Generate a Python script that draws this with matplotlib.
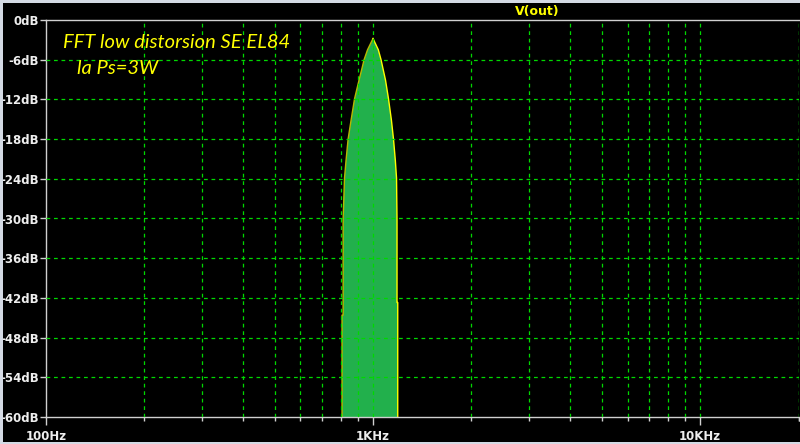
import matplotlib
matplotlib.use("Agg")
import matplotlib.pyplot as plt
from matplotlib.patches import Rectangle
from matplotlib.ticker import FixedLocator, NullFormatter

# spectrum outline (left flank, peak, right flank)
freq_hz = [804, 804, 810, 810, 818, 827, 839, 857, 878, 906, 922, 939, 962, 1000,
           1038, 1058, 1092, 1115, 1138, 1155, 1170, 1180, 1184, 1184, 1190, 1190]
level_db = [-60, -44.6, -44.6, -30.2, -23.9, -21.2, -18.0, -15.1, -11.9, -9.1, -7.6, -6.0, -4.5, -2.8,
            -4.5, -6.0, -9.1, -11.9, -15.1, -18.0, -21.2, -23.9, -30.2, -42.7, -42.7, -60]

y_ticks = [0, -6, -12, -18, -24, -30, -36, -42, -48, -54, -60]
y_labels = [f"{v}dB" for v in y_ticks]
x_major = [100, 1000, 10000]
x_major_labels = ["100Hz", "1KHz", "10KHz"]
x_minor = [m * d for d in (100, 1000, 10000) for m in range(2, 10)] + [20000]

BG = "black"
AXIS = "#d0d0d0"
GRID = "#00d800"
YEL = "#ffff00"
FILL = "#22b04c"

fig = plt.figure(figsize=(8.0, 4.44), dpi=100, facecolor=BG)
ax = fig.add_axes([46 / 800, 1 - 417 / 444, (798.5 - 46) / 800, 397 / 444])
ax.set_facecolor(BG)
ax.set_xscale("log")
ax.set_xlim(100, 20000)
ax.set_ylim(-60, 0)

ax.fill(freq_hz, level_db, color=FILL, lw=0, zorder=1)
ax.plot(freq_hz[:14], level_db[:14], color="#b8b800", lw=1, zorder=2)
ax.plot(freq_hz[13:], level_db[13:], color=YEL, lw=1, zorder=2)

# dashed green grid on top of the trace
for f in x_minor + [1000, 10000]:
    ax.axvline(f, color=GRID, lw=0.9, ls=(0, (3, 3)), zorder=3)
for v in y_ticks[1:-1]:
    ax.axhline(v, color=GRID, lw=0.9, ls=(0, (3, 3)), zorder=3)

for s in ["left", "bottom", "top"]:
    ax.spines[s].set_color(AXIS)
    ax.spines[s].set_linewidth(1)
ax.spines["right"].set_visible(False)

ax.set_yticks(y_ticks)
ax.set_yticklabels(y_labels)
ax.xaxis.set_major_locator(FixedLocator(x_major))
ax.set_xticklabels(x_major_labels)
ax.xaxis.set_minor_locator(FixedLocator(x_minor))
ax.xaxis.set_minor_formatter(NullFormatter())
ax.tick_params(axis="y", colors=AXIS, labelcolor="#eeeeee", length=4, width=1,
               pad=1, labelsize=8.5)
ax.tick_params(axis="x", which="major", colors=AXIS, labelcolor="#eeeeee", length=6,
               width=1, pad=3, labelsize=8.5)
ax.tick_params(axis="x", which="minor", colors=AXIS, length=3, width=1)
for lab in ax.get_xticklabels() + ax.get_yticklabels():
    lab.set_fontweight("bold")

fig.text(537 / 800, 1 - 12 / 444, "V(out)", color=YEL, fontsize=9, fontweight="bold",
         ha="center", va="center")
ax.text(63 / 800, 1 - 42 / 444, "FFT low distorsion SE EL84", transform=fig.transFigure,
        color=YEL, fontsize=14.5, style="italic", family="Lato", ha="left", va="center")
ax.text(77 / 800, 1 - 68 / 444, "la Ps=3W", transform=fig.transFigure,
        color=YEL, fontsize=14.5, style="italic", family="Lato", ha="left", va="center")

# light window frame round the plot
for xy, w, h in [((0, 1 - 3 / 444), 1, 3 / 444), ((0, 0), 3 / 800, 1), ((0, 0), 1, 2 / 444)]:
    fig.patches.append(Rectangle(xy, w, h, transform=fig.transFigure,
                                 facecolor="#d4dae4", edgecolor="none"))

fig.savefig("out.png", dpi=100, facecolor=BG)
